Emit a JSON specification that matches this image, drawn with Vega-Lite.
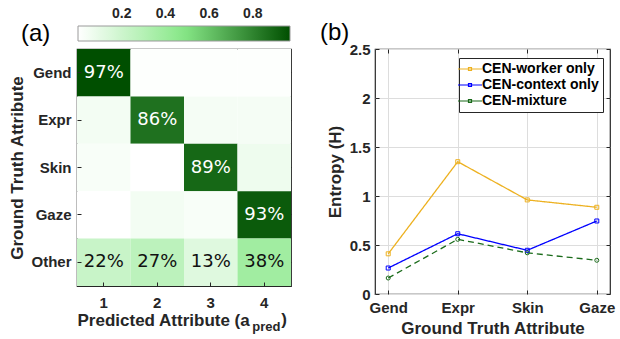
{
  "$schema": "https://vega.github.io/schema/vega-lite/v6.json",
  "background": "white",
  "padding": {"left": 8, "top": 20, "right": 5, "bottom": 2},
  "bounds": "flush",
  "spacing": 84,
  "config": {
    "view": {"stroke": "#262626", "strokeWidth": 1.2},
    "axis": {
      "labelFont": "Liberation Sans", "labelFontWeight": "bold", "labelFontSize": 15, "labelColor": "#262626",
      "titleFont": "Liberation Sans", "titleFontWeight": "bold", "titleFontSize": 17, "titleColor": "#262626",
      "domain": false, "tickColor": "#262626", "tickSize": -4, "tickWidth": 1
    }
  },
  "hconcat": [
    {
      "width": 214,
      "height": 237,
      "resolve": {"axis": {"x": "independent", "y": "independent"}},
      "layer": [
        {
          "data": {"values": [
            {"truth": "Gend", "pred": "1", "v": 0.97}, {"truth": "Gend", "pred": "2", "v": 0.01}, {"truth": "Gend", "pred": "3", "v": 0.01}, {"truth": "Gend", "pred": "4", "v": 0.01},
            {"truth": "Expr", "pred": "1", "v": 0.05}, {"truth": "Expr", "pred": "2", "v": 0.86}, {"truth": "Expr", "pred": "3", "v": 0.04}, {"truth": "Expr", "pred": "4", "v": 0.04},
            {"truth": "Skin", "pred": "1", "v": 0.03}, {"truth": "Skin", "pred": "2", "v": 0.0}, {"truth": "Skin", "pred": "3", "v": 0.89}, {"truth": "Skin", "pred": "4", "v": 0.07},
            {"truth": "Gaze", "pred": "1", "v": 0.0}, {"truth": "Gaze", "pred": "2", "v": 0.05}, {"truth": "Gaze", "pred": "3", "v": 0.03}, {"truth": "Gaze", "pred": "4", "v": 0.93},
            {"truth": "Other", "pred": "1", "v": 0.22}, {"truth": "Other", "pred": "2", "v": 0.27}, {"truth": "Other", "pred": "3", "v": 0.13}, {"truth": "Other", "pred": "4", "v": 0.38}
          ]},
          "layer": [
            {
              "mark": {"type": "rect"},
              "encoding": {
                "color": {
                  "field": "v", "type": "quantitative",
                  "scale": {"type": "linear", "domain": [0, 0.48, 0.97], "range": ["#ffffff", "#88e888", "#004f00"], "interpolate": "rgb", "zero": false},
                  "legend": {
                    "orient": "none", "legendX": -56, "legendY": -23, "direction": "horizontal",
                    "gradientLength": 212, "gradientThickness": 15,
                    "gradientStrokeColor": "#9a9a9a", "gradientStrokeWidth": 1,
                    "values": [0.2, 0.4, 0.6, 0.8],
                    "labelOffset": -34, "labelFont": "Liberation Sans", "labelFontWeight": "bold", "labelFontSize": 14, "labelColor": "#262626",
                    "title": "(a)", "titleOrient": "left", "titleFont": "Liberation Sans", "titleFontSize": 24, "titleFontWeight": "normal", "titleColor": "#000000",
                    "titlePadding": 27, "padding": 0
                  }
                }
              }
            },
            {
              "transform": [{"filter": "datum.v >= 0.1"}],
              "mark": {"type": "text", "font": "DejaVu Sans", "fontSize": 18},
              "encoding": {
                "text": {"field": "v", "type": "quantitative", "format": ".0%"},
                "color": {"condition": {"test": "datum.v > 0.5", "value": "#ffffff"}, "value": "#111111"}
              }
            }
          ],
          "encoding": {
            "x": {
              "field": "pred", "type": "ordinal", "sort": ["1", "2", "3", "4"],
              "scale": {"paddingInner": 0, "paddingOuter": 0},
              "axis": {"labelAngle": 0, "labelPadding": 13, "title": "Predicted Attribute (a", "titleAnchor": "start", "titlePadding": 2}
            },
            "y": {
              "field": "truth", "type": "ordinal", "sort": ["Gend", "Expr", "Skin", "Gaze", "Other"],
              "scale": {"paddingInner": 0, "paddingOuter": 0},
              "axis": {"labelPadding": 10, "title": "Ground Truth Attribute", "titlePadding": 4}
            }
          }
        },
        {
          "data": {"values": [{"pred": "4", "truth": "Other", "t": "pred"}]},
          "mark": {"type": "text", "font": "Liberation Sans", "fontWeight": "bold", "fontSize": 13, "align": "left", "baseline": "alphabetic", "dx": -12, "dy": 69, "color": "#262626"},
          "encoding": {
            "x": {"field": "pred", "type": "ordinal", "sort": ["1", "2", "3", "4"], "axis": {"orient": "top", "labels": false, "title": null}},
            "y": {"field": "truth", "type": "ordinal", "sort": ["Gend", "Expr", "Skin", "Gaze", "Other"], "axis": {"orient": "right", "labels": false, "title": null}},
            "text": {"field": "t"}
          }
        },
        {
          "data": {"values": [{"pred": "4", "truth": "Other", "t": ")"}]},
          "mark": {"type": "text", "font": "Liberation Sans", "fontWeight": "bold", "fontSize": 17, "align": "left", "baseline": "alphabetic", "dx": 17, "dy": 63, "color": "#262626"},
          "encoding": {
            "x": {"field": "pred", "type": "ordinal", "sort": ["1", "2", "3", "4"], "axis": null},
            "y": {"field": "truth", "type": "ordinal", "sort": ["Gend", "Expr", "Skin", "Gaze", "Other"], "axis": null},
            "text": {"field": "t"}
          }
        }
      ]
    },
    {
      "width": 235,
      "height": 245,
      "resolve": {"axis": {"x": "independent", "y": "independent"}},
      "title": {"text": "(b)", "anchor": "start", "frame": "group", "font": "Liberation Sans", "fontSize": 24, "fontWeight": "normal", "color": "#000000", "dx": -55, "dy": 7},
      "data": {"values": [
        {"attr": "Gend", "series": "CEN-worker only", "H": 0.41},
        {"attr": "Expr", "series": "CEN-worker only", "H": 1.35},
        {"attr": "Skin", "series": "CEN-worker only", "H": 0.96},
        {"attr": "Gaze", "series": "CEN-worker only", "H": 0.885},
        {"attr": "Gend", "series": "CEN-context only", "H": 0.265},
        {"attr": "Expr", "series": "CEN-context only", "H": 0.615},
        {"attr": "Skin", "series": "CEN-context only", "H": 0.446},
        {"attr": "Gaze", "series": "CEN-context only", "H": 0.745},
        {"attr": "Gend", "series": "CEN-mixture", "H": 0.163},
        {"attr": "Expr", "series": "CEN-mixture", "H": 0.558},
        {"attr": "Skin", "series": "CEN-mixture", "H": 0.42},
        {"attr": "Gaze", "series": "CEN-mixture", "H": 0.344}
      ]},
      "layer": [
        {
          "encoding": {
            "x": {
              "field": "attr", "type": "nominal", "sort": ["Gend", "Expr", "Skin", "Gaze"],
              "scale": {"type": "point", "padding": 0.19},
              "axis": {"labelAngle": 0, "labelPadding": 10, "grid": true, "gridColor": "#dddddd", "title": "Ground Truth Attribute", "titlePadding": 5}
            },
            "y": {
              "field": "H", "type": "quantitative",
              "scale": {"domain": [0, 2.5], "nice": false},
              "axis": {"values": [0, 0.5, 1, 1.5, 2, 2.5], "format": "~g", "labelPadding": 9, "grid": true, "gridColor": "#dddddd", "title": "Entropy (H)", "titlePadding": 5}
            },
            "color": {
              "field": "series", "type": "nominal",
              "scale": {"domain": ["CEN-worker only", "CEN-context only", "CEN-mixture"], "range": ["#EDB120", "#0000FF", "#1a6b1a"]},
              "legend": {
                "title": null, "orient": "none", "legendX": 84, "legendY": 9,
                "fillColor": "#ffffff", "strokeColor": "#262626", "padding": 4,
                "symbolType": "M-2,0L2,0M-0.25,-0.25L0.25,-0.25L0.25,0.25L-0.25,0.25Z",
                "symbolSize": 144, "symbolStrokeWidth": 1.2, "symbolFillColor": "#ffffff", "symbolOffset": 0,
                "labelOffset": 5, "labelFont": "Liberation Sans", "labelFontWeight": "bold", "labelFontSize": 14, "labelColor": "#000000",
                "rowPadding": 2, "columnPadding": 0
              }
            }
          },
          "layer": [
            {
              "mark": {"type": "line", "strokeWidth": 1.3},
              "encoding": {
                "strokeDash": {
                  "field": "series", "type": "nominal",
                  "scale": {"domain": ["CEN-worker only", "CEN-context only", "CEN-mixture"], "range": [[1, 0], [1, 0], [6, 4]]},
                  "legend": {"title": null}
                }
              }
            },
            {
              "mark": {"type": "point", "filled": false, "size": 16, "strokeWidth": 1, "opacity": 1},
              "encoding": {
                "shape": {
                  "field": "series", "type": "nominal",
                  "scale": {"domain": ["CEN-worker only", "CEN-context only", "CEN-mixture"], "range": ["square", "square", "circle"]},
                  "legend": null
                }
              }
            }
          ]
        },
        {
          "mark": {"type": "point", "opacity": 0},
          "encoding": {
            "x": {"field": "attr", "type": "nominal", "sort": ["Gend", "Expr", "Skin", "Gaze"], "axis": {"orient": "top", "labels": false, "title": null, "grid": false}},
            "y": {"field": "H", "type": "quantitative", "axis": {"orient": "right", "values": [0, 0.5, 1, 1.5, 2, 2.5], "labels": false, "title": null, "grid": false}}
          }
        }
      ]
    }
  ]
}
